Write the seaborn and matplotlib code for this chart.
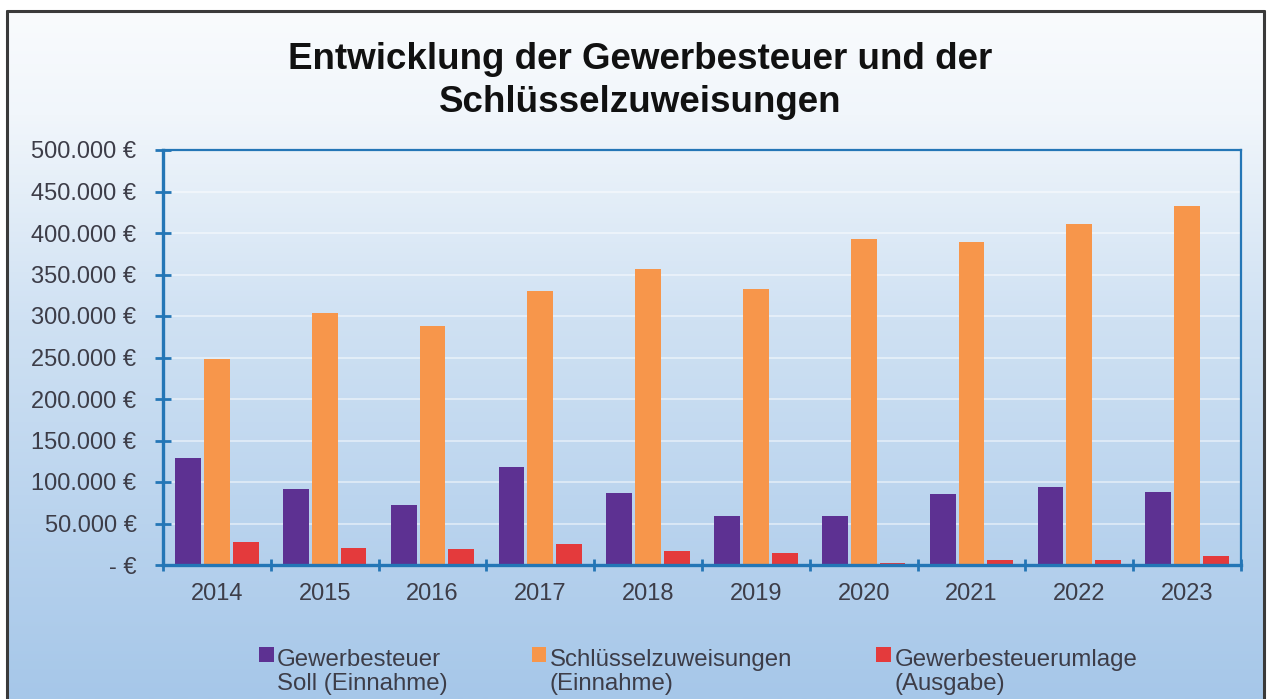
import numpy as np
import pandas as pd
import matplotlib
matplotlib.use("Agg")
import matplotlib.pyplot as plt
import seaborn as sns
from matplotlib.patches import Rectangle
from matplotlib.legend_handler import HandlerBase
from matplotlib.ticker import FuncFormatter, MultipleLocator
from matplotlib.colors import LinearSegmentedColormap

# ---------------- data ----------------
years = ["2014", "2015", "2016", "2017", "2018", "2019", "2020", "2021", "2022", "2023"]
gewerbesteuer = [128400, 92100, 72500, 117500, 86600, 59200, 58500, 86100, 93400, 88500]
schluessel = [248400, 303500, 287400, 329700, 356300, 332100, 392500, 389300, 410300, 432400]
umlage = [28100, 20100, 19800, 25700, 16900, 14100, 2200, 6000, 5700, 10900]
series_names = ["Gewerbesteuer\nSoll (Einnahme)",
                "Schlüsselzuweisungen\n(Einnahme)",
                "Gewerbesteuerumlage\n(Ausgabe)"]
colors = ["#5d3192", "#f7964b", "#e43a3c"]
title = "Entwicklung der Gewerbesteuer und der\nSchlüsselzuweisungen"

df = pd.DataFrame({
    "Jahr": years * 3,
    "Serie": [series_names[0]] * len(years) + [series_names[1]] * len(years) + [series_names[2]] * len(years),
    "Wert": gewerbesteuer + schluessel + umlage,
})

# ---------------- figure ----------------
sns.set_theme(style="white")
plt.rcParams["font.family"] = ["Liberation Sans", "DejaVu Sans"]

W, H = 1269, 699
fig = plt.figure(figsize=(W / 100, H / 100), dpi=100)
fig.patch.set_facecolor("white")

# gradient background inside the frame
fl, fr, ft = 7, 1264, 11
bg = fig.add_axes([fl / W, 0, (fr - fl) / W, (H - ft) / H], zorder=-10)
cmap = LinearSegmentedColormap.from_list(
    "bgrad", [(0.0, "#f9fbfd"), (0.15, "#f1f6fb"), (0.45, "#cfe1f3"), (1.0, "#a6c7e9")])
grad = np.linspace(0, 1, 512).reshape(-1, 1)
bg.imshow(grad, aspect="auto", cmap=cmap, extent=[0, 1, 1, 0])
bg.set_xlim(0, 1)
bg.set_ylim(1, 0)
bg.axis("off")

# frame lines
frame_col = "#3a3a3a"
fig.add_artist(plt.Line2D([fl / W, fl / W], [0, 1 - ft / H], color=frame_col, lw=2.2, transform=fig.transFigure))
fig.add_artist(plt.Line2D([fl / W, fr / W], [1 - ft / H, 1 - ft / H], color=frame_col, lw=2.2, transform=fig.transFigure))
fig.add_artist(plt.Line2D([fr / W, fr / W], [0, 1 - ft / H], color=frame_col, lw=2.2, transform=fig.transFigure))

# main axes
axL, axR, axT, axB = 163, 1241, 150, 565
ax = fig.add_axes([axL / W, 1 - axB / H, (axR - axL) / W, (axB - axT) / H])
ax.set_facecolor("none")

sns.barplot(data=df, x="Jahr", y="Wert", hue="Serie", palette=colors,
            width=0.8, gap=0.1, saturation=1, legend=False, ax=ax, errorbar=None,
            linewidth=0, edgecolor="none")

ax.set_xlim(-0.5, len(years) - 0.5)
ax.set_ylim(0, 500000)
ax.yaxis.set_major_locator(MultipleLocator(50000))


def euro(v, pos):
    if v == 0:
        return "- €"
    return f"{int(round(v)):,}".replace(",", ".") + " €"


ax.yaxis.set_major_formatter(FuncFormatter(euro))
ax.set_xlabel("")
ax.set_ylabel("")

ax.grid(axis="y", color="white", alpha=0.55, lw=1.2)
ax.set_axisbelow(True)

spine_col = "#2476b6"
for name, sp in ax.spines.items():
    sp.set_visible(True)
    sp.set_color(spine_col)
    sp.set_linewidth(1.6)
ax.spines["left"].set_linewidth(2.4)
ax.spines["bottom"].set_linewidth(2.4)

txt_col = "#3d3d48"
ax.tick_params(axis="y", which="major", direction="inout", length=12, width=2,
               color=spine_col, labelsize=17, labelcolor=txt_col, pad=13, left=True)
ax.tick_params(axis="x", which="major", length=0, labelsize=17, labelcolor=txt_col, pad=13)
ax.set_xticks(np.arange(-0.5, len(years), 1.0), minor=True)
ax.tick_params(axis="x", which="minor", direction="inout", length=9, width=2,
               color=spine_col, bottom=True)

# title
fig.text(640 / W, 1 - 81 / H, title, ha="center", va="center", fontsize=26.5,
         fontweight="bold", color="#111111", linespacing=1.3)


# legend with square aligned to first line
class FirstLineSquare(HandlerBase):
    def create_artists(self, legend, orig_handle, xdescent, ydescent, width, height, fontsize, trans):
        s = 0.6 * fontsize
        base = 0.78 * fontsize
        p = Rectangle((width - xdescent - s, base), s, s,
                      facecolor=orig_handle.get_facecolor(), edgecolor="none", transform=trans)
        return [p]


handles = [Rectangle((0, 0), 1, 1, facecolor=c, edgecolor="none") for c in colors]
leg = fig.legend(handles, series_names, ncol=3, loc="center",
                 bbox_to_anchor=(697 / W, 1 - 672 / H), frameon=False, fontsize=17.3,
                 handlelength=0.7, handleheight=1.0, handletextpad=0.15, columnspacing=3.4,
                 labelcolor=txt_col,
                 handler_map={Rectangle: FirstLineSquare()})
for t in leg.get_texts():
    t.set_linespacing(1.15)

fig.savefig("out.png", dpi=100, facecolor=fig.get_facecolor())
